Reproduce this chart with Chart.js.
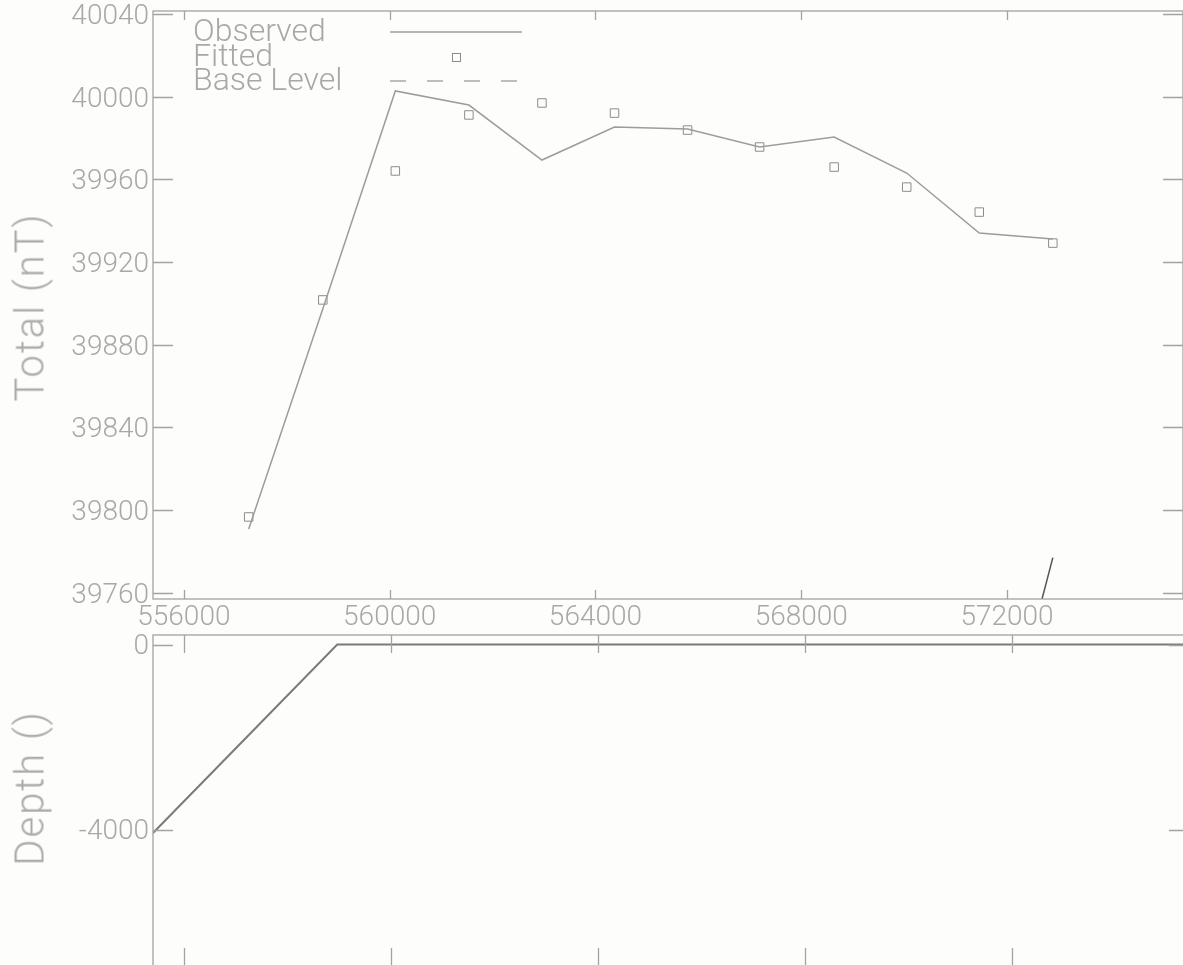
<!DOCTYPE html>
<html>
<head>
<meta charset="utf-8">
<script src="https://cdn.jsdelivr.net/npm/chart.js@4.4.1/dist/chart.umd.min.js"></script>
<style>
  html, body { margin: 0; padding: 0; overflow: hidden; background: #fdfdfc; width: 1183px; height: 965px; }
  #wrap { position: relative; width: 1183px; height: 965px; overflow: hidden; }
  canvas { position: absolute; left: 0; }
  #topChart { top: 0; }
  #depthChart { top: 620px; }
  .ytitle { position: absolute; left: 30px; width: 0; height: 0; }
  .ytitle span {
    position: absolute; left: 0; top: 0; white-space: nowrap;
    transform: translate(-50%, -50%) rotate(-90deg);
    font: 300 40px Roboto, sans-serif; color: #ababab; letter-spacing: 2px;
  }
</style>
</head>
<body>
<div id="wrap">
  <canvas id="topChart" width="1190" height="634"></canvas>
  <canvas id="depthChart" width="1190" height="364"></canvas>
  <div class="ytitle" style="top:307px"><span>Total (nT)</span></div>
  <div class="ytitle" style="top:788px"><span>Depth ()</span></div>
</div>
<script>
// station positions (easting) and profile values
const stationX = [557260, 558700, 560110, 561540, 562960, 564370, 565790, 567190, 568640, 570050, 571460, 572890];
const observedTotal = [39790.9, 39897.3, 40002.8, 39996.0, 39969.4, 39985.4, 39984.4, 39975.7, 39980.5, 39963.1, 39934.1, 39931.2];
const fittedTotal = [39796.7, 39901.7, 39964.1, 39991.2, 39997.0, 39992.1, 39983.9, 39975.7, 39966.0, 39956.3, 39944.2, 39929.2];

// short stray segment at the bottom right of the upper panel
const strayX = [572680, 572890];
const strayY = [39757, 39777];

// body depth profile (lower panel)
const depthX = [555400, 558960, 575420];
const depthY = [-4065, 0, 0];

const xTicks = [556000, 560000, 564000, 568000, 572000];
const totalTicks = [39760, 39800, 39840, 39880, 39920, 39960, 40000, 40040];
const depthTicks = [-4000, 0];

const X_MIN = 555400, X_MAX = 575420;
const FONT = 'Roboto, sans-serif';
const TXT = '#a8a8a8';
const AXIS = '#a3a3a3';

const pts = (xs, ys) => xs.map((x, i) => ({ x: x, y: ys[i] }));

// keep the plot area where we put it, no room reserved for label overhang
const noPad = s => { s.paddingTop = 0; s.paddingBottom = 0; s.paddingLeft = 0; s.paddingRight = 0; };

// frame around the plot area plus inward tick marks on all four sides
const frameTicks = {
    id: 'frameTicks',
    afterDraw(chart, args, o) {
        const { ctx, chartArea: a, scales } = chart;
        ctx.save();
        ctx.strokeStyle = o.color;
        ctx.lineWidth = 1.3;
        ctx.strokeRect(a.left, a.top, a.right - a.left, a.bottom - a.top);
        ctx.beginPath();
        scales.x.ticks.forEach(t => {
            const px = Math.round(scales.x.getPixelForValue(t.value)) + 0.5;
            ctx.moveTo(px, a.top); ctx.lineTo(px, a.top + o.xLen);
            ctx.moveTo(px, a.bottom); ctx.lineTo(px, a.bottom - o.xLen);
        });
        scales.y.ticks.forEach(t => {
            const py = Math.round(scales.y.getPixelForValue(t.value)) + 0.5;
            ctx.moveTo(a.left, py); ctx.lineTo(a.left + o.yLen, py);
            ctx.moveTo(a.right, py); ctx.lineTo(a.right - o.yLen, py);
        });
        ctx.stroke();
        ctx.restore();
    }
};

// legend in the top-left corner: label text, then the sample to its right
const textLegend = {
    id: 'textLegend',
    afterDraw(chart, args, o) {
        const ctx = chart.ctx;
        ctx.save();
        ctx.font = '300 32px ' + FONT;
        ctx.fillStyle = TXT;
        ctx.textBaseline = 'middle';
        chart.data.datasets.filter(d => d.label).forEach((d, i) => {
            const y = o.y + i * o.rowH;
            ctx.fillText(d.label, o.x, y + 1);
            if (d.showLine === false) {
                const s = 8;
                ctx.strokeStyle = d.pointBorderColor;
                ctx.lineWidth = 1;
                ctx.strokeRect(Math.round(o.sampleX + o.sampleW / 2 - s / 2) + 0.5, Math.round(y - s / 2) + 0.5, s, s);
            } else {
                ctx.strokeStyle = d.borderColor;
                ctx.lineWidth = d.borderWidth;
                ctx.setLineDash(d.borderDash || []);
                ctx.beginPath();
                ctx.moveTo(o.sampleX, y);
                ctx.lineTo(o.sampleX + o.sampleW, y);
                ctx.stroke();
                ctx.setLineDash([]);
            }
        });
        ctx.restore();
    }
};

const tickFont = { family: FONT, size: 28, weight: '300' };

new Chart(document.getElementById('topChart'), {
    type: 'scatter',
    data: {
        datasets: [
            {
                label: 'Observed',
                data: pts(stationX, observedTotal),
                showLine: true,
                borderColor: '#9c9c9c',
                borderWidth: 1.5,
                pointRadius: 0,
                tension: 0
            },
            {
                label: 'Fitted',
                data: pts(stationX, fittedTotal),
                showLine: false,
                pointStyle: 'rect',
                pointRadius: 6,
                pointBorderColor: '#8c8c8c',
                pointBackgroundColor: 'rgba(0,0,0,0)',
                pointBorderWidth: 1
            },
            {
                label: 'Base Level',
                data: [],
                showLine: true,
                borderColor: '#a8a8a8',
                borderWidth: 1.3,
                borderDash: [16, 21],
                pointRadius: 0
            },
            {
                label: '',
                data: pts(strayX, strayY),
                showLine: true,
                borderColor: '#555555',
                borderWidth: 1.5,
                pointRadius: 0
            }
        ]
    },
    options: {
        responsive: false,
        animation: false,
        layout: { padding: { top: 11, right: 1, left: 0, bottom: 0 } },
        plugins: {
            legend: { display: false },
            tooltip: { enabled: false },
            frameTicks: { color: AXIS, xLen: 9, yLen: 20 },
            textLegend: { x: 193, y: 32, rowH: 24.5, sampleX: 390, sampleW: 132 }
        },
        scales: {
            x: {
                type: 'linear',
                min: X_MIN,
                max: X_MAX,
                afterBuildTicks: s => { s.ticks = xTicks.map(v => ({ value: v })); },
                afterFit: s => { s.height = 35; noPad(s); },
                grid: { display: false, drawTicks: false },
                border: { display: false },
                ticks: { font: tickFont, color: TXT, padding: 2, maxRotation: 0, callback: v => String(v) }
            },
            y: {
                type: 'linear',
                min: 39757,
                max: 40041.5,
                afterBuildTicks: s => { s.ticks = totalTicks.map(v => ({ value: v })); },
                afterFit: s => { s.width = 153; noPad(s); },
                grid: { display: false, drawTicks: false },
                border: { display: false },
                ticks: { font: tickFont, color: TXT, padding: 4, labelOffset: 3, callback: v => String(v) }
            }
        }
    },
    plugins: [frameTicks, textLegend]
});

new Chart(document.getElementById('depthChart'), {
    type: 'scatter',
    data: {
        datasets: [{
            label: 'Depth',
            data: pts(depthX, depthY),
            showLine: true,
            borderColor: '#7a7a7a',
            borderWidth: 2,
            pointRadius: 0,
            tension: 0
        }]
    },
    options: {
        responsive: false,
        animation: false,
        layout: { padding: { top: 15, right: 1, left: 0, bottom: 18 } },
        plugins: {
            legend: { display: false },
            tooltip: { enabled: false },
            frameTicks: { color: AXIS, xLen: 18, yLen: 20 }
        },
        scales: {
            x: {
                type: 'linear',
                min: X_MIN,
                max: X_MAX,
                afterBuildTicks: s => { s.ticks = xTicks.map(v => ({ value: v })); },
                afterFit: s => { s.height = 0; noPad(s); },
                grid: { display: false, drawTicks: false },
                border: { display: false },
                ticks: { display: false }
            },
            y: {
                type: 'linear',
                min: -6933,
                max: 205,
                afterBuildTicks: s => { s.ticks = depthTicks.map(v => ({ value: v })); },
                afterFit: s => { s.width = 153; noPad(s); },
                grid: { display: false, drawTicks: false },
                border: { display: false },
                ticks: { font: tickFont, color: TXT, padding: 4, labelOffset: 2, callback: v => String(v) }
            }
        }
    },
    plugins: [frameTicks]
});
</script>
</body>
</html>
